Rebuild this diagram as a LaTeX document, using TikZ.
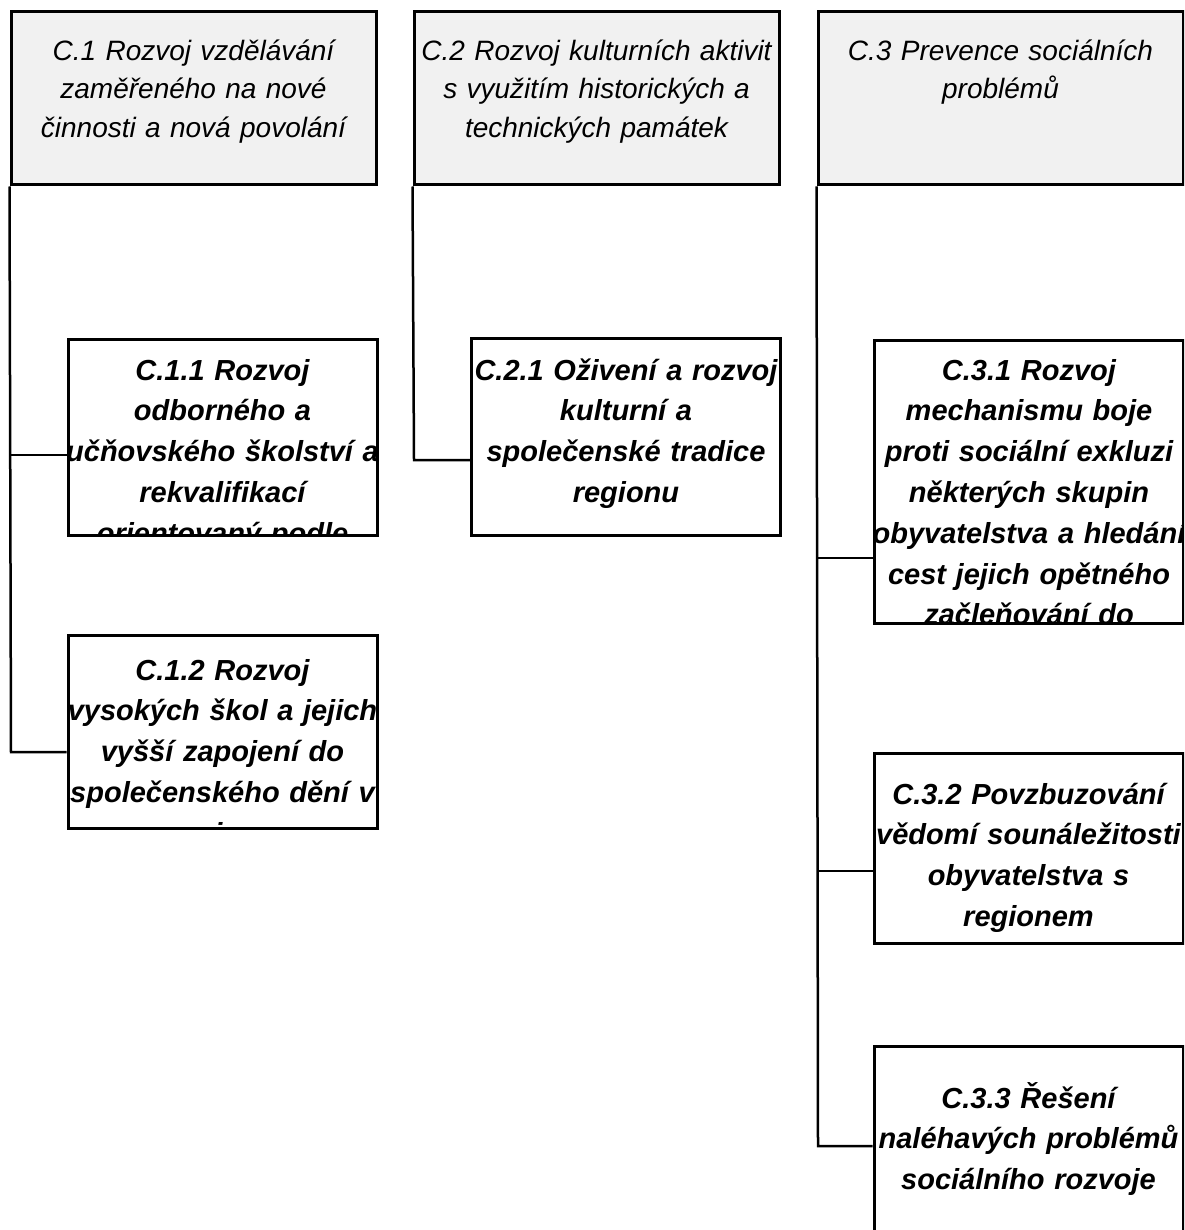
\documentclass[tikz,border=0pt]{standalone}
\usepackage{fontspec}
\setmainfont{Liberation Sans}
\usetikzlibrary{calc}
\definecolor{headgray}{HTML}{F1F1F1}
\begin{document}
\begin{tikzpicture}[x=1pt,y=-1pt,
  headbox/.style={draw=black, line width=3pt, fill=headgray, rectangle, inner sep=0pt,
    minimum width=365pt, minimum height=173pt},
  subbox/.style={draw=black, line width=3pt, rectangle, inner sep=0pt, minimum width=309pt},
  headtext/.style={anchor=base, inner sep=0pt, text width=400pt, align=center,
    font=\fontsize{28}{38.5}\selectfont\itshape},
  subtext/.style={anchor=base, inner sep=0pt, text width=400pt, align=center,
    font=\fontsize{29}{40.8}\selectfont\bfseries\itshape},
  link/.style={line width=2.5pt}]
\clip (0,0) rectangle (1184,1230);

% --- top-level headings ---
\node[headbox] (c1) at (193.5,98.5) {};
\node[headbox] (c2) at (596.5,98.5) {};
\node[headbox] (c3) at (1000.5,98.5) {};
\node[headtext] (t1) at ($(c1.north)+(0,50)$)
  {C.1 Rozvoj vzdělávání\\ zaměřeného na nové\\ činnosti a nová povolání};
\node[headtext] (t2) at ($(c2.north)+(0,50)$)
  {C.2 Rozvoj kulturních aktivit\\ s využitím historických a\\ technických památek};
\node[headtext] (t3) at ($(c3.north)+(0,50)$)
  {C.3 Prevence sociálních\\ problémů};

% --- measure texts, cut off at the box edges ---
\begin{scope}
  \clip (68,339) rectangle (377,535);
  \node[subtext] (t11) at (222.5,380)
    {C.1.1 Rozvoj\\ odborného a\\ učňovského školství a\\ rekvalifikací\\ orientovaný podle};
\end{scope}
\begin{scope}
  \clip (68,635) rectangle (377,828);
  \node[subtext] (t12) at (222.5,680)
    {C.1.2 Rozvoj\\ vysokých škol a jejich\\ vyšší zapojení do\\ společenského dění v\\ regionu};
\end{scope}
\begin{scope}
  \clip (472,338) rectangle (780,535);
  \node[subtext] (t21) at (626,380)
    {C.2.1 Oživení a rozvoj\\ kulturní a\\ společenské tradice\\ regionu};
\end{scope}
\begin{scope}
  \clip (875,340) rectangle (1183,623);
  \node[subtext] (t31) at (1029,380)
    {C.3.1 Rozvoj\\ mechanismu boje\\ proti sociální exkluzi\\ některých skupin\\ obyvatelstva a hledání\\ cest jejich opětného\\ začleňování do};
\end{scope}
\begin{scope}
  \clip (874,753) rectangle (1183,943);
  \node[subtext] (t32) at (1028.5,804)
    {C.3.2 Povzbuzování\\ vědomí sounáležitosti\\ obyvatelstva s\\ regionem};
\end{scope}
\begin{scope}
  \clip (874,1046) rectangle (1183,1234);
  \node[subtext] (t33) at (1028.5,1108)
    {C.3.3 Řešení\\ naléhavých problémů\\ sociálního rozvoje};
\end{scope}

% --- measure frames, drawn over the cut text ---
\node[subbox, minimum height=196pt] (c11) at (222.5,437) {};
\node[subbox, minimum height=193pt] (c12) at (222.5,731.5) {};
\node[subbox, minimum height=197pt] (c21) at (626,436.5) {};
\node[subbox, minimum height=283pt] (c31) at (1029,481.5) {};
\node[subbox, minimum height=190pt] (c32) at (1028.5,848) {};
\node[subbox, minimum height=188pt] (c33) at (1028.5,1140) {};

% --- branch points on the vertical trunks ---
\coordinate (j11) at (11,455);
\coordinate (j12) at (11,752);
\coordinate (j21) at (414,460);
\coordinate (j31) at (818,558);
\coordinate (j32) at (818,871);
\coordinate (j33) at (818,1146);

% --- connectors ---
\draw[link] (c1.south west) -- (j12) -- (c12.west |- j12);
\draw[link] (j11) -- (c11.west |- j11);
\draw[link] (c2.south west) -- (j21) -- (c21.west |- j21);
\draw[link] (c3.south west) -- (j33) -- (c33.west |- j33);
\draw[link] (j31) -- (c31.west |- j31);
\draw[link] (j32) -- (c32.west |- j32);
\end{tikzpicture}
\end{document}
